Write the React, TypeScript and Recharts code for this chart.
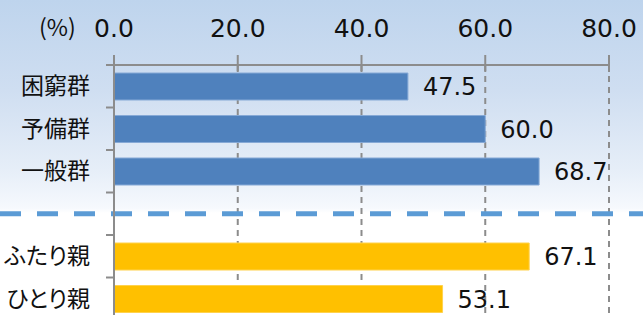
import { BarChart, Bar, XAxis, YAxis, CartesianGrid, ReferenceLine, LabelList, Cell } from 'recharts';

const categories = ['困窮群', '予備群', '一般群', ' ', 'ふたり親', 'ひとり親'];
const values = [47.5, 60.0, 68.7, null, 67.1, 53.1];
const groups = ['a', 'a', 'a', '', 'b', 'b'];
const xTicks = [0, 20, 40, 60, 80];

const colors = { a: '#4f81bd', b: '#ffc000' };
const strokes = { a: '#86a9d6', b: '#ffd24d' };

const data = categories.map((name, i) => ({ name, value: values[i], group: groups[i] }));

const W = 643;
const H = 330;
const TOP = 65;
const BOTTOM = 10;
const band = (H - TOP - BOTTOM) / categories.length;

const XTick = ({ x, y, payload }) => {
  const axisY = y + 10 + 18;
  return (
    <g>
      <line x1={x} x2={x} y1={axisY - 10} y2={axisY + 7} stroke="#8c8c8c" strokeWidth={2} />
      <text x={x} y={y} textAnchor="middle" fontSize={25} fill="#111" fontFamily="DejaVu Sans">
        {Number(payload.value).toFixed(1)}
      </text>
    </g>
  );
};

const YTick = ({ x, y, payload }) => {
  const axisX = x + 8 + 16;
  const top = y - band / 2;
  return (
    <g>
      <line x1={axisX - 8} x2={axisX} y1={top} y2={top} stroke="#8c8c8c" strokeWidth={2} />
      <text
        x={x}
        y={y}
        dy={8}
        textAnchor="end"
        fontSize={23}
        fill="#111"
        fontFamily="'Noto Sans CJK JP'"
        style={{ fontFeatureSettings: '"palt"' }}
      >
        {payload.value}
      </text>
    </g>
  );
};

export default function App() {
  return (
    <div
      style={{
        position: 'fixed',
        left: 0,
        top: 0,
        width: W,
        height: 315,
        overflow: 'hidden',
        background: 'linear-gradient(to bottom, #bed4ed 0px, #cfdef1 90px, #e6eef8 170px, #f6f9fd 208px, #ffffff 213px, #ffffff 100%)',
      }}
    >
      <div
        style={{
          position: 'absolute',
          left: 39,
          top: 9,
          fontSize: 23,
          lineHeight: '34px',
          fontFamily: "'Noto Sans CJK JP'",
          color: '#111',
        }}
      >
        (%)
      </div>
      <BarChart
        width={W}
        height={H}
        data={data}
        layout="vertical"
        margin={{ top: 0, right: 34, bottom: BOTTOM, left: 0 }}
      >
        <CartesianGrid horizontal={false} stroke="#8c8c8c" strokeWidth={2} strokeDasharray="6 5" />
        <XAxis
          type="number"
          orientation="top"
          domain={[0, 80]}
          ticks={xTicks}
          height={TOP}
          tickSize={10}
          tickMargin={18}
          tickLine={false}
          axisLine={{ stroke: '#8c8c8c', strokeWidth: 2 }}
          tick={XTick}
          interval={0}
        />
        <YAxis
          type="category"
          dataKey="name"
          width={114}
          tickSize={8}
          tickMargin={16}
          tickLine={false}
          axisLine={{ stroke: '#8c8c8c', strokeWidth: 2 }}
          tick={YTick}
          interval={0}
        />
        <ReferenceLine
          y=" "
          ifOverflow="visible"
          shape={(p) => (
            <line x1={0} x2={W} y1={p.y1} y2={p.y1} stroke="#5b9bd5" strokeWidth={5} strokeDasharray="21 16" />
          )}
        />
        <Bar dataKey="value" barSize={27} isAnimationActive={false}>
          {data.map((d, i) => (
            <Cell key={i} fill={colors[d.group] || 'none'} stroke={strokes[d.group] || 'none'} strokeWidth={1} />
          ))}
          <LabelList
            dataKey="value"
            position="right"
            offset={15}
            fontSize={24}
            fill="#111"
            fontFamily="DejaVu Sans"
            formatter={(v) => (v == null ? '' : Number(v).toFixed(1))}
          />
        </Bar>
      </BarChart>
    </div>
  );
}
